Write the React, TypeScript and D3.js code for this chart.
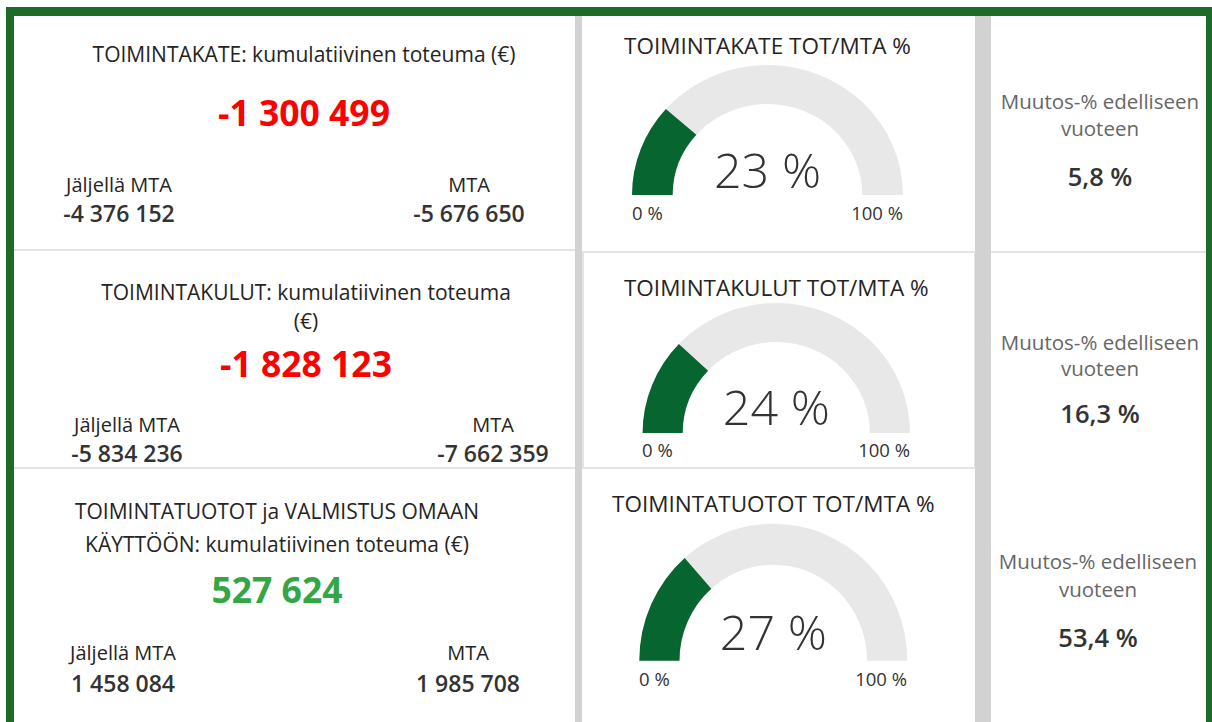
import React from "react";
import * as d3 from "d3";

// ---- data ----
const cardTitles: string[][] = [
  ["TOIMINTAKATE: kumulatiivinen toteuma (€)"],
  ["TOIMINTAKULUT: kumulatiivinen toteuma", "(€)"],
  ["TOIMINTATUOTOT ja VALMISTUS OMAAN", "KÄYTTÖÖN: kumulatiivinen toteuma (€)"],
];
const cumulativeValues = [-1300499, -1828123, 527624];
const remainingValues = [-4376152, -5834236, 1458084];
const budgetValues = [-5676650, -7662359, 1985708];
const remainingLabel = "Jäljellä MTA";
const budgetLabel = "MTA";
const gaugeTitles = ["TOIMINTAKATE TOT/MTA %", "TOIMINTAKULUT TOT/MTA %", "TOIMINTATUOTOT TOT/MTA %"];
const gaugePercents = [23, 24, 27];
const gaugeMinLabel = "0 %";
const gaugeMaxLabel = "100 %";
const changeTitle = ["Muutos-% edelliseen", "vuoteen"];
const changePercents = [5.8, 16.3, 53.4];

// ---- formatting ----
const fiLocale = d3.formatLocale({
  decimal: ",",
  thousands: "\u00a0",
  grouping: [3],
  currency: ["", " €"],
  minus: "-",
});
const fmtInt = fiLocale.format(",d");
const fmtPct1 = fiLocale.format(".1f");

// ---- layout (positions only) ----
const cardLayout = [
  { cx: 304, titleY: [62], bigY: 126, labY: 192, valY: 222, lx: 119, rx: 469 },
  { cx: 306, titleY: [300, 329], bigY: 377, labY: 432, valY: 462, lx: 127, rx: 493 },
  { cx: 277, titleY: [519, 552], bigY: 603, labY: 660, valY: 692, lx: 123, rx: 468 },
];
const gaugeLayout = [
  { cx: 767.5, by: 195, rx: 135.5, ry: 130, titleY: 54, valY: 188, labY: 220, lx: 632, rxEnd: 903 },
  { cx: 776.3, by: 433, rx: 133.7, ry: 130, titleY: 296, valY: 425, labY: 457, lx: 642, rxEnd: 910 },
  { cx: 773.3, by: 660.7, rx: 134, ry: 137, titleY: 512, valY: 650, labY: 686, lx: 639, rxEnd: 907 },
];
const changeLayout = [
  { cx: 1100, y: [109, 136, 186] },
  { cx: 1100, y: [350, 376, 423] },
  { cx: 1098, y: [569, 597, 647] },
];

const FONT = "'Open Sans', 'Noto Sans', sans-serif";
const DARK = "#252423";
const RED = "#fd0000";
const GREEN_TEXT = "#33a646";
const GAUGE_GREEN = "#07652f";
const GAUGE_GRAY = "#e8e8e8";

function Gauge({ i }: { i: number }) {
  const g = gaugeLayout[i];
  const scale = d3.scaleLinear().domain([0, 100]).range([-Math.PI / 2, Math.PI / 2]);
  const R = g.ry;
  const arc = d3.arc<any>().innerRadius(R * 0.7).outerRadius(R);
  const bg = arc({ startAngle: scale(0), endAngle: scale(100) } as any) || "";
  const fg = arc({ startAngle: scale(0), endAngle: scale(gaugePercents[i]) } as any) || "";
  return (
    <g>
      <text x={g.cx} y={g.titleY} textAnchor="middle" fontSize={22.5} fill={DARK} fontFamily={FONT}>
        {gaugeTitles[i]}
      </text>
      <g transform={`translate(${g.cx},${g.by}) scale(${g.rx / g.ry},1)`}>
        <path d={bg} fill={GAUGE_GRAY} />
        <path d={fg} fill={GAUGE_GREEN} />
      </g>
      <text x={g.cx} y={g.valY} textAnchor="middle" fontSize={48.5} fontWeight={300} fill="#333" fontFamily={FONT}>
        {`${gaugePercents[i]} %`}
      </text>
      <text x={g.lx} y={g.labY} textAnchor="start" fontSize={18.5} fill="#333" fontFamily={FONT}>
        {gaugeMinLabel}
      </text>
      <text x={g.rxEnd} y={g.labY} textAnchor="end" fontSize={18.5} fill="#333" fontFamily={FONT}>
        {gaugeMaxLabel}
      </text>
    </g>
  );
}

function Card({ i }: { i: number }) {
  const c = cardLayout[i];
  const v = cumulativeValues[i];
  return (
    <g fontFamily={FONT}>
      {cardTitles[i].map((t, k) => (
        <text key={k} x={c.cx} y={c.titleY[k]} textAnchor="middle" fontSize={21} fill={DARK}>
          {t}
        </text>
      ))}
      <text x={c.cx} y={c.bigY} textAnchor="middle" fontSize={35.5} fontWeight={700} fill={v < 0 ? RED : GREEN_TEXT}>
        {fmtInt(v)}
      </text>
      <text x={c.lx} y={c.labY} textAnchor="middle" fontSize={20} fill={DARK}>
        {remainingLabel}
      </text>
      <text x={c.lx} y={c.valY} textAnchor="middle" fontSize={23} fontWeight={600} fill="#333">
        {fmtInt(remainingValues[i])}
      </text>
      <text x={c.rx} y={c.labY} textAnchor="middle" fontSize={20} fill={DARK}>
        {budgetLabel}
      </text>
      <text x={c.rx} y={c.valY} textAnchor="middle" fontSize={23} fontWeight={600} fill="#333">
        {fmtInt(budgetValues[i])}
      </text>
    </g>
  );
}

function Change({ i }: { i: number }) {
  const c = changeLayout[i];
  return (
    <g fontFamily={FONT}>
      <text x={c.cx} y={c.y[0]} textAnchor="middle" fontSize={20.5} fill="#666">
        {changeTitle[0]}
      </text>
      <text x={c.cx} y={c.y[1]} textAnchor="middle" fontSize={20.5} fill="#666">
        {changeTitle[1]}
      </text>
      <text x={c.cx} y={c.y[2]} textAnchor="middle" fontSize={25.5} fontWeight={600} fill="#333">
        {`${fmtPct1(changePercents[i])} %`}
      </text>
    </g>
  );
}

export default function App() {
  const W = 1212;
  const H = 722;
  return (
    <svg
      width={W}
      height={H}
      style={{ position: "absolute", left: 0, top: 0, display: "block", background: "#fff" }}
    >
      <rect x={0} y={0} width={W} height={H} fill="#fff" />
      {/* green frame */}
      <rect x={6} y={7} width={W} height={H} fill="#1c6b27" />
      <rect x={14} y={16} width={1192} height={H} fill="#fff" />
      {/* separators */}
      <rect x={14} y={249} width={561} height={2} fill="#e4e4e4" />
      <rect x={14} y={467} width={561} height={2} fill="#e4e4e4" />
      <rect x={991} y={251} width={215} height={2} fill="#e4e4e4" />
      <rect x={583} y={252} width={392} height={216} fill="none" stroke="#e4e4e4" strokeWidth={2} />
      <rect x={575} y={16} width={7} height={H} fill="#d2d2d2" />
      <rect x={975} y={16} width={16} height={H} fill="#d2d2d2" />
      {[0, 1, 2].map((i) => (
        <Card key={`c${i}`} i={i} />
      ))}
      {[0, 1, 2].map((i) => (
        <Gauge key={`g${i}`} i={i} />
      ))}
      {[0, 1, 2].map((i) => (
        <Change key={`m${i}`} i={i} />
      ))}
    </svg>
  );
}
